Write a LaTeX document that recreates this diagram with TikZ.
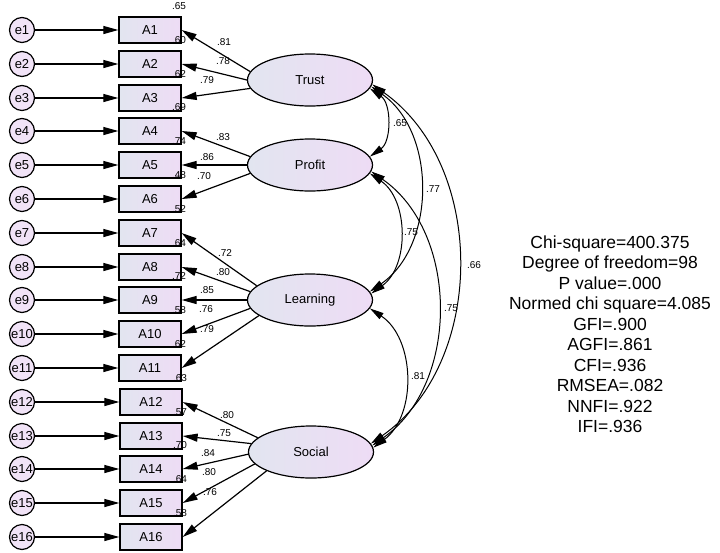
\documentclass[tikz,border=0pt]{standalone}
\usepackage{fontspec}
\setmainfont{Liberation Sans}
\usepackage{tikz}
\usetikzlibrary{arrows.meta, shapes.geometric}
\definecolor{semblue}{RGB}{226, 229, 240}
\definecolor{sempink}{RGB}{238, 220, 245}
\definecolor{semerr}{RGB}{241, 227, 247}

\begin{document}
\begin{tikzpicture}[x=1pt, y=1pt,
  every node/.style={font=\fontsize{13}{15}\selectfont},
  errnode/.style={circle, draw, line width=1.2pt, fill=semerr, minimum size=25pt, inner sep=0pt},
  itembox/.style={rectangle, draw, line width=1.3pt, left color=semblue, right color=sempink,
    minimum width=62pt, minimum height=26pt, inner sep=0pt},
  factor/.style={ellipse, draw, line width=1.2pt, left color=semblue, right color=sempink,
    minimum width=125pt, minimum height=52pt, inner sep=0pt},
  reg/.style={-{Triangle[length=15pt, width=8pt]}, line width=1.2pt},
  cov/.style={{Triangle[length=14pt, width=7pt]}-{Triangle[length=14pt, width=7pt]}, line width=1pt},
  est/.style={font=\fontsize{10}{12}\selectfont, inner sep=0pt}]
  \useasboundingbox (0,0) rectangle (720,-552);

  % Error terms
  \node[errnode] (e1) at (22,-30) {e1};
  \node[errnode] (e2) at (22,-64) {e2};
  \node[errnode] (e3) at (22,-98) {e3};
  \node[errnode] (e4) at (22,-131) {e4};
  \node[errnode] (e5) at (22,-165) {e5};
  \node[errnode] (e6) at (22,-199) {e6};
  \node[errnode] (e7) at (22,-233) {e7};
  \node[errnode] (e8) at (22,-267) {e8};
  \node[errnode] (e9) at (22,-300) {e9};
  \node[errnode] (e10) at (22,-334) {e10};
  \node[errnode] (e11) at (22,-368) {e11};
  \node[errnode] (e12) at (22,-402) {e12};
  \node[errnode] (e13) at (22,-436) {e13};
  \node[errnode] (e14) at (22,-469) {e14};
  \node[errnode] (e15) at (22,-503) {e15};
  \node[errnode] (e16) at (22,-537) {e16};

  % Observed items
  \node[itembox] (a1) at (150,-30) {A1};
  \node[itembox] (a2) at (150,-64) {A2};
  \node[itembox] (a3) at (150,-98) {A3};
  \node[itembox] (a4) at (150,-131) {A4};
  \node[itembox] (a5) at (150,-165) {A5};
  \node[itembox] (a6) at (150,-199) {A6};
  \node[itembox] (a7) at (150,-233) {A7};
  \node[itembox] (a8) at (150,-267) {A8};
  \node[itembox] (a9) at (150,-300) {A9};
  \node[itembox] (a10) at (150,-334) {A10};
  \node[itembox] (a11) at (150,-368) {A11};
  \node[itembox] (a12) at (151,-402) {A12};
  \node[itembox] (a13) at (151,-436) {A13};
  \node[itembox] (a14) at (151,-469) {A14};
  \node[itembox] (a15) at (151,-503) {A15};
  \node[itembox] (a16) at (151,-537) {A16};

  % Error arrows
  \draw[reg] (e1) -- (a1);
  \draw[reg] (e2) -- (a2);
  \draw[reg] (e3) -- (a3);
  \draw[reg] (e4) -- (a4);
  \draw[reg] (e5) -- (a5);
  \draw[reg] (e6) -- (a6);
  \draw[reg] (e7) -- (a7);
  \draw[reg] (e8) -- (a8);
  \draw[reg] (e9) -- (a9);
  \draw[reg] (e10) -- (a10);
  \draw[reg] (e11) -- (a11);
  \draw[reg] (e12) -- (a12);
  \draw[reg] (e13) -- (a13);
  \draw[reg] (e14) -- (a14);
  \draw[reg] (e15) -- (a15);
  \draw[reg] (e16) -- (a16);

  % Squared multiple correlations
  \node[est] (r1) at (179,-6) {.65};
  \node[est] (r2) at (179,-40) {.60};
  \node[est] (r3) at (179,-74) {.62};
  \node[est] (r4) at (179,-107) {.69};
  \node[est] (r5) at (179,-141) {.74};
  \node[est] (r6) at (179,-175) {.48};
  \node[est] (r7) at (179,-209) {.52};
  \node[est] (r8) at (179,-243) {.64};
  \node[est] (r9) at (179,-276) {.72};
  \node[est] (r10) at (179,-310) {.58};
  \node[est] (r11) at (179,-344) {.62};
  \node[est] (r12) at (180,-378) {.63};
  \node[est] (r13) at (180,-412) {.57};
  \node[est] (r14) at (180,-445) {.70};
  \node[est] (r15) at (180,-479) {.64};
  \node[est] (r16) at (180,-513) {.58};

  % Latent factors
  \node[factor] (trust) at (310,-80) {Trust};
  \node[factor] (profit) at (310,-165) {Profit};
  \node[factor] (learning) at (310,-300) {Learning};
  \node[factor] (social) at (311,-452) {Social};

  % Trust loadings
  \draw[reg] (trust.172) -- (a1.east);
  \draw[reg] (trust.180) -- (a2.east);
  \draw[reg] (trust.188) -- (a3.east);
  \node[est] (l1) at (224,-42) {.81};
  \node[est] (l2) at (223,-61) {.78};
  \node[est] (l3) at (207,-80) {.79};

  % Profit loadings
  \draw[reg] (profit.172) -- (a4.east);
  \draw[reg] (profit.180) -- (a5.east);
  \draw[reg] (profit.188) -- (a6.east);
  \node[est] (l4) at (223,-137) {.83};
  \node[est] (l5) at (207,-157) {.86};
  \node[est] (l6) at (204,-176) {.70};

  % Learning loadings
  \draw[reg] (learning.165) -- (a7.east);
  \draw[reg] (learning.172) -- (a8.east);
  \draw[reg] (learning.180) -- (a9.east);
  \draw[reg] (learning.188) -- (a10.east);
  \draw[reg] (learning.197) -- (a11.east);
  \node[est] (l7) at (225,-253) {.72};
  \node[est] (l8) at (223,-272) {.80};
  \node[est] (l9) at (207,-290) {.85};
  \node[est] (l10) at (206,-309) {.76};
  \node[est] (l11) at (207,-329) {.79};

  % Social loadings
  \draw[reg] (social.165) -- (a12.east);
  \draw[reg] (social.172) -- (a13.east);
  \draw[reg] (social.182) -- (a14.east);
  \draw[reg] (social.192) -- (a15.east);
  \draw[reg] (social.203) -- (a16.east);
  \node[est] (l12) at (227,-415) {.80};
  \node[est] (l13) at (224,-433) {.75};
  \node[est] (l14) at (208,-453) {.84};
  \node[est] (l15) at (209,-472) {.80};
  \node[est] (l16) at (210,-492) {.76};

  % Factor covariances
  \draw[cov] (trust.-8) to[bend left=55] (profit.8);
  \draw[cov] (trust.-6) to[bend left=55] (learning.8);
  \draw[cov] (trust.-4) to[bend left=55] (social.8);
  \draw[cov] (profit.-8) to[bend left=55] (learning.6);
  \draw[cov] (profit.-6) to[bend left=55] (social.6);
  \draw[cov] (learning.-8) to[bend left=55] (social.4);
  \node[est] (c1) at (400,-123) {.65};
  \node[est] (c2) at (433,-189) {.77};
  \node[est] (c3) at (474,-265) {.66};
  \node[est] (c4) at (411,-232) {.75};
  \node[est] (c5) at (451,-308) {.75};
  \node[est] (c6) at (418,-376) {.81};

  % Fit indices
  \node[align=center, font=\fontsize{17.5}{20.5}\selectfont] (fit) at (610,-334)
    {Chi-square=400.375\\Degree of freedom=98\\P value=.000\\Normed chi square=4.085\\
     GFI=.900\\AGFI=.861\\CFI=.936\\RMSEA=.082\\NNFI=.922\\IFI=.936};
\end{tikzpicture}
\end{document}
